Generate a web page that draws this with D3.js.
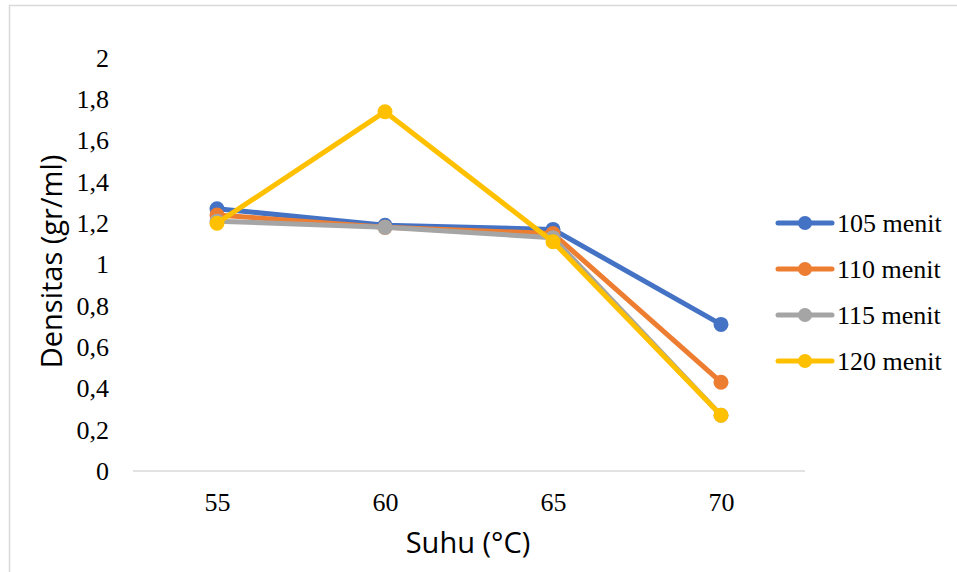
<!DOCTYPE html>
<html>
<head>
<meta charset="utf-8">
<script src="https://cdn.jsdelivr.net/npm/d3@7"></script>
<style>
  body { margin: 0; background: #fff; }
  svg { display: block; }
</style>
</head>
<body>
<script>
(function () {
  "use strict";

  var suhu = ["55", "60", "65", "70"];
  var seriesNames = ["105 menit", "110 menit", "115 menit", "120 menit"];
  var s105 = [1.27, 1.19, 1.17, 0.71];
  var s110 = [1.24, 1.18, 1.15, 0.43];
  var s115 = [1.21, 1.18, 1.13, 0.27];
  var s120 = [1.20, 1.74, 1.11, 0.27];
  var yTicks = [0, 0.2, 0.4, 0.6, 0.8, 1, 1.2, 1.4, 1.6, 1.8, 2];
  var colors = ["#4472C4", "#ED7D31", "#A5A5A5", "#FFC000"];

  var serif = "'Liberation Serif'";
  var sans = "'Open Sans'";

  var series = [s105, s110, s115, s120].map(function (vals, i) {
    return { name: seriesNames[i], color: colors[i], values: vals };
  });

  var outerWidth = 957, outerHeight = 572;
  var plot = { left: 133, right: 805, top: 58, bottom: 471 };

  var svg = d3.select("body").append("svg")
      .attr("width", outerWidth)
      .attr("height", outerHeight);

  // chart frame (partly outside the picture)
  svg.append("rect")
      .attr("x", 9.5).attr("y", 5.5)
      .attr("width", 1100).attr("height", 700)
      .attr("fill", "none")
      .attr("stroke", "#d9d9d9")
      .attr("stroke-width", 1.5);

  var x = d3.scalePoint().domain(suhu).range([plot.left, plot.right]).padding(0.5);
  var y = d3.scaleLinear().domain([0, 2]).range([plot.bottom, plot.top]);

  // y axis labels
  var yAxis = d3.axisLeft(y).tickValues(yTicks).tickSize(0).tickPadding(0)
      .tickFormat(function (d) { return String(d).replace(".", ","); });
  var gy = svg.append("g")
      .attr("transform", "translate(" + (plot.left - 24) + ",0)")
      .call(yAxis);
  gy.select(".domain").remove();
  gy.selectAll("text")
      .style("font-family", serif)
      .style("font-size", "26px")
      .attr("fill", "#000");

  // baseline
  svg.append("line")
      .attr("x1", plot.left).attr("x2", plot.right)
      .attr("y1", y(0)).attr("y2", y(0))
      .attr("stroke", "#d9d9d9").attr("stroke-width", 1.5);

  // x axis labels
  var xAxis = d3.axisBottom(x).tickSize(0).tickPadding(0);
  var gx = svg.append("g")
      .attr("transform", "translate(0," + (y(0) + 22) + ")")
      .call(xAxis);
  gx.select(".domain").remove();
  gx.selectAll("text")
      .style("font-family", serif)
      .style("font-size", "26px")
      .attr("fill", "#000");

  // axis titles
  svg.append("text")
      .attr("x", (plot.left + plot.right) / 2 - 1)
      .attr("y", 553)
      .attr("text-anchor", "middle")
      .style("font-family", sans)
      .style("font-size", "29px")
      .attr("fill", "#000")
      .text("Suhu (°C)");

  svg.append("text")
      .attr("transform", "translate(62," + ((plot.top + plot.bottom) / 2 - 3) + ") rotate(-90)")
      .attr("text-anchor", "middle")
      .style("font-family", sans)
      .style("font-size", "29px")
      .attr("fill", "#000")
      .text("Densitas (gr/ml)");

  // lines and markers
  var line = d3.line()
      .x(function (d, i) { return x(suhu[i]); })
      .y(function (d) { return y(d); });

  var groups = svg.selectAll(".series")
      .data(series)
      .enter()
    .append("g")
      .attr("class", "series");

  groups.append("path")
      .attr("d", function (d) { return line(d.values); })
      .attr("fill", "none")
      .attr("stroke", function (d) { return d.color; })
      .attr("stroke-width", 5)
      .attr("stroke-linejoin", "round");

  groups.selectAll("circle")
      .data(function (d) { return d.values.map(function (v, i) { return { v: v, i: i, color: d.color }; }); })
      .enter()
    .append("circle")
      .attr("cx", function (d) { return x(suhu[d.i]); })
      .attr("cy", function (d) { return y(d.v); })
      .attr("r", 7.5)
      .attr("fill", function (d) { return d.color; });

  // legend
  var legend = svg.selectAll(".legend")
      .data(series)
      .enter()
    .append("g")
      .attr("class", "legend")
      .attr("transform", function (d, i) { return "translate(776," + (223 + i * 46) + ")"; });

  legend.append("line")
      .attr("x1", 2).attr("x2", 56)
      .attr("stroke", function (d) { return d.color; })
      .attr("stroke-width", 5)
      .attr("stroke-linecap", "round");
  legend.append("circle")
      .attr("cx", 29).attr("r", 7)
      .attr("fill", function (d) { return d.color; });
  legend.append("text")
      .attr("x", 61).attr("dy", "0.35em")
      .style("font-family", serif)
      .style("font-size", "26px")
      .attr("fill", "#000")
      .text(function (d) { return d.name; });
}());
</script>
</body>
</html>
